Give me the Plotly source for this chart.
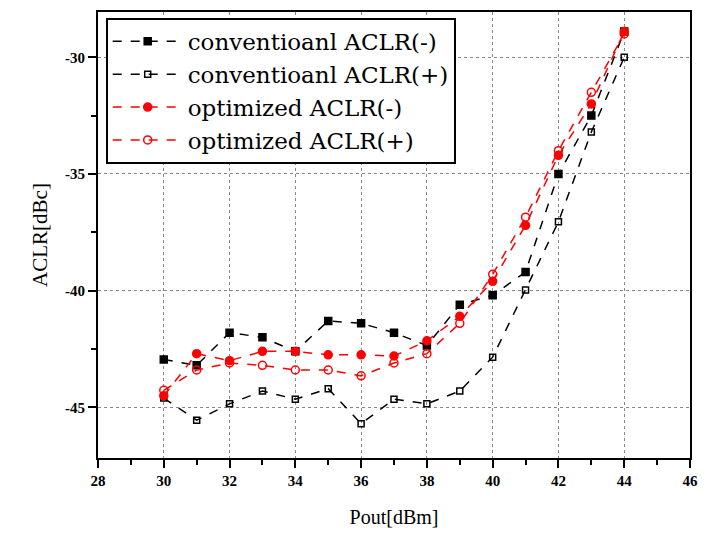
import plotly.graph_objects as go

pout = [30, 31, 32, 33, 34, 35, 36, 37, 38, 39, 40, 41, 42, 43, 44]
conv_minus = [-42.95, -43.2, -41.8, -42.0, -42.6, -41.3, -41.4, -41.8, -42.35, -40.6, -40.2, -39.2, -35.0, -32.5, -28.9]
conv_plus = [-44.6, -45.55, -44.85, -44.3, -44.65, -44.2, -45.7, -44.65, -44.85, -44.3, -42.85, -39.97, -37.05, -33.2, -30.0]
opt_minus = [-44.5, -42.7, -43.0, -42.6, -42.6, -42.75, -42.75, -42.8, -42.15, -41.1, -39.6, -37.2, -34.2, -32.0, -28.9]
opt_plus = [-44.27, -43.4, -43.1, -43.2, -43.4, -43.4, -43.65, -43.1, -42.7, -41.4, -39.3, -36.85, -34.0, -31.5, -29.0]

names = ["conventioanl ACLR(-)", "conventioanl ACLR(+)", "optimized ACLR(-)", "optimized ACLR(+)"]
x_ticks = [28, 30, 32, 34, 36, 38, 40, 42, 44, 46]
y_ticks = [-30, -35, -40, -45]

fig = go.Figure()
series = [
    (conv_minus, "black", "square", 7),
    (conv_plus, "black", "square-open", 6),
    (opt_minus, "red", "circle", 8),
    (opt_plus, "red", "circle-open", 8),
]
for i, ((ys, col, sym, sz), nm) in enumerate(zip(series, names)):
    fig.add_trace(go.Scatter(
        x=pout, y=ys, name=nm, mode="lines+markers", legendgroup=f"g{i}",
        line=dict(color=col, width=1.5, dash="dash"),
        marker=dict(symbol=sym, size=sz, color=col, line=dict(color=col, width=1.5)),
    ))

serif = "Liberation Serif, Times New Roman, serif"
wide_serif = "DejaVu Serif, Liberation Serif, serif"
fig.update_layout(
    width=704, height=538,
    margin=dict(l=98, r=6, t=12, b=80),
    paper_bgcolor="white", plot_bgcolor="white",
    font=dict(family=serif, color="black", size=15),
    showlegend=True,
    legend=dict(
        x=0.013, y=0.987, xanchor="left", yanchor="top",
        bgcolor="white", bordercolor="black", borderwidth=2,
        font=dict(size=23, family=wide_serif),
        itemwidth=70, tracegroupgap=0,
    ),
    xaxis=dict(
        range=[28, 46], tickvals=x_ticks, ticktext=[str(v) for v in x_ticks],
        ticks="outside", ticklen=8, tickwidth=1.5, tickcolor="black",
        minor=dict(dtick=1, ticks="outside", ticklen=5, tickcolor="black", showgrid=False),
        showline=True, linecolor="black", linewidth=2, mirror=True,
        showgrid=True, gridcolor="#888888", griddash="dot", gridwidth=1,
        zeroline=False,
        title=dict(text="Pout[dBm]", font=dict(size=20), standoff=22),
        tickfont=dict(size=15, weight="bold"),
    ),
    yaxis=dict(
        range=[-47.17, -28.06], tickvals=y_ticks, ticktext=[str(v) for v in y_ticks],
        ticks="outside", ticklen=8, tickwidth=1.5, tickcolor="black",
        minor=dict(dtick=2.5, ticks="outside", ticklen=5, tickcolor="black", showgrid=False),
        showline=True, linecolor="black", linewidth=2, mirror=True,
        showgrid=True, gridcolor="#888888", griddash="dot", gridwidth=1,
        zeroline=False,
        title=dict(text="ACLR[dBc]", font=dict(size=21), standoff=12),
        tickfont=dict(size=15, weight="bold"),
    ),
)

fig.write_html("out.html")
